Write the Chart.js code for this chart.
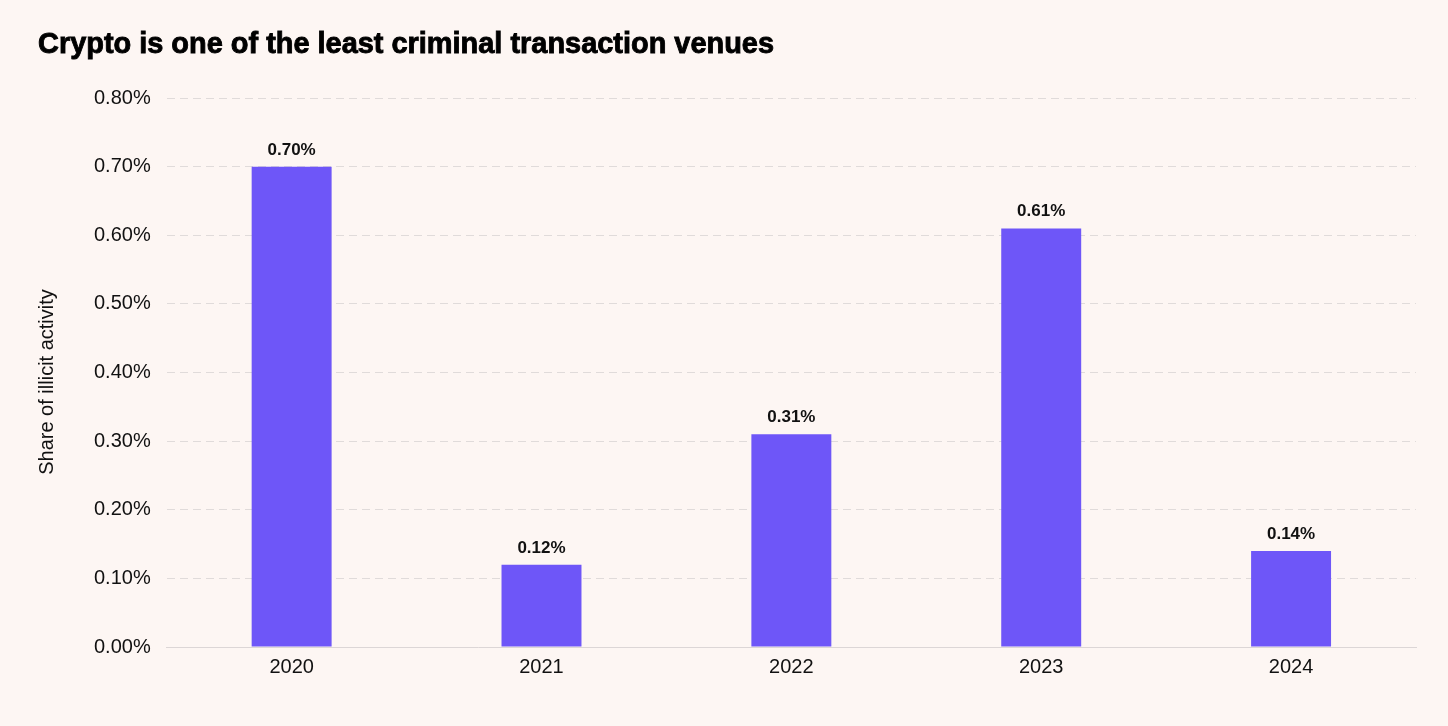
<!DOCTYPE html>
<html>
<head>
<meta charset="utf-8">
<script src="https://cdn.jsdelivr.net/npm/chart.js@4/dist/chart.umd.min.js"></script>
<style>
html,body{margin:0;padding:0;background:#fdf6f3;}
#wrap{position:relative;width:1448px;height:726px;}
</style>
</head>
<body>
<div id="wrap"><canvas id="c" width="1448" height="726"></canvas></div>
<script>
const titleText = "Crypto is one of the least criminal transaction venues";
const yAxisTitle = "Share of illicit activity";
const categories = ["2020", "2021", "2022", "2023", "2024"];
const shareValues = [0.70, 0.12, 0.31, 0.61, 0.14];
const yMin = 0, yMax = 0.8, yStep = 0.1;

const FONT = '"Liberation Sans", Arial, sans-serif';

const valueLabels = {
  id: 'valueLabels',
  afterDatasetsDraw(chart) {
    const ctx = chart.ctx;
    const meta = chart.getDatasetMeta(0);
    ctx.save();
    ctx.font = 'bold 17px ' + FONT;
    ctx.fillStyle = '#111';
    ctx.textAlign = 'center';
    ctx.textBaseline = 'alphabetic';
    meta.data.forEach((bar, i) => {
      ctx.fillText(shareValues[i].toFixed(2) + '%', bar.x, bar.y - 12);
    });
    ctx.restore();
  }
};

const bg = {
  id: 'bg',
  beforeDraw(chart) {
    const ctx = chart.ctx;
    ctx.save();
    ctx.fillStyle = '#fdf6f3';
    ctx.fillRect(0, 0, chart.width, chart.height);
    ctx.restore();
  }
};

const heading = {
  id: 'heading',
  afterDraw(chart) {
    const ctx = chart.ctx;
    ctx.save();
    ctx.font = 'bold 30px ' + FONT;
    const w = ctx.measureText(titleText).width;
    const sx = 736 / w;
    ctx.translate(38, 53);
    ctx.scale(sx, 1);
    ctx.fillStyle = '#000';
    ctx.strokeStyle = '#000';
    ctx.lineWidth = 0.9;
    ctx.textAlign = 'left';
    ctx.textBaseline = 'alphabetic';
    ctx.fillText(titleText, 0, 0);
    ctx.strokeText(titleText, 0, 0);
    ctx.restore();

    // y-axis title
    ctx.save();
    ctx.font = '20px ' + FONT;
    ctx.fillStyle = '#111';
    ctx.textAlign = 'center';
    ctx.textBaseline = 'middle';
    ctx.translate(47, 382);
    ctx.rotate(-Math.PI / 2);
    ctx.fillText(yAxisTitle, 0, 0);
    ctx.restore();
  }
};

new Chart(document.getElementById('c'), {
  type: 'bar',
  data: {
    labels: categories,
    datasets: [{
      data: shareValues,
      backgroundColor: '#6e56f8',
      barPercentage: 0.32,
      categoryPercentage: 1.0
    }]
  },
  options: {
    responsive: false,
    animation: false,
    devicePixelRatio: 1,
    layout: { padding: { left: 78, right: 32, top: 98, bottom: 39 } },
    plugins: {
      legend: { display: false },
      tooltip: { enabled: false },
      title: { display: false }
    },
    scales: {
      x: {
        grid: { display: false, drawTicks: false },
        border: { display: true, color: '#dcd6d6', width: 1 },
        ticks: { color: '#111', font: { family: FONT, size: 20 }, padding: 8 }
      },
      y: {
        min: yMin, max: yMax,
        grid: { color: '#e0dbda', drawTicks: false, lineWidth: 1 },
        border: { display: false, dash: [8, 5] },
        ticks: {
          stepSize: yStep,
          color: '#111',
          padding: 16,
          font: { family: FONT, size: 20 },
          callback: v => v.toFixed(2) + '%'
        },
        title: { display: false }
      }
    }
  },
  plugins: [bg, valueLabels, heading]
});
</script>
</body>
</html>
